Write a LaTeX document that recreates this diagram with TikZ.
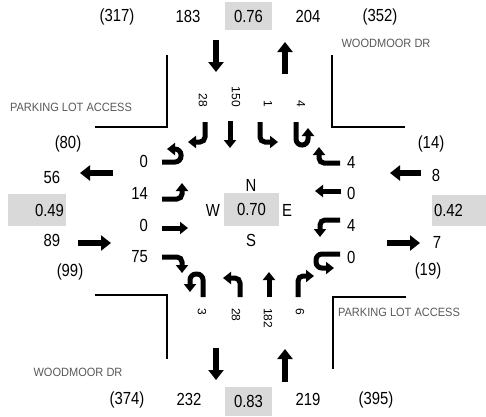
\documentclass[tikz,border=0pt]{standalone}
\usepackage{fontspec}
\setmainfont{Liberation Sans}[FakeStretch=0.85]
\newfontfamily\rotfont{Liberation Sans}
\newfontfamily\streetfont{Liberation Sans}[FakeStretch=0.92]
\usetikzlibrary{arrows.meta}
\definecolor{boxgray}{HTML}{D9D9D9}
\definecolor{streetgray}{HTML}{595959}
\begin{document}
\begin{tikzpicture}[x=1pt,y=-1pt,
  num/.style={inner sep=0pt, font=\fontsize{17.5}{20}\selectfont},
  valbox/.style={num, fill=boxgray, inner sep=2pt},
  rot/.style={inner sep=0pt, rotate=-90, font=\rotfont\fontsize{12}{14}\selectfont},
  street/.style={inner sep=0pt, text=streetgray, font=\streetfont\fontsize{12}{14}\selectfont},
  curb/.style={line width=1.3pt},
  mv/.style={line width=5pt, rounded corners=5pt, -{Triangle[length=8pt,width=12pt]}},
  bigarrow/.style={line width=6.5pt, -{Triangle[length=10pt,width=15pt]}},
]
\useasboundingbox (0,0) rectangle (486,416);

% curbs
\draw[curb] (95,127) -- (167,127) -- (167,55);
\draw[curb] (332,55) -- (332,127) -- (405,127);
\draw[curb] (95,295) -- (167,295) -- (167,359);
\draw[curb] (406,297) -- (333,297) -- (333,369);

% street names
\node[street] (plaTL) at (71,107) {PARKING LOT ACCESS};
\node[street] (wdTR) at (386,43) {WOODMOOR DR};
\node[street] (plaBR) at (399,312) {PARKING LOT ACCESS};
\node[street] (wdBL) at (78,372) {WOODMOOR DR};

% top row
\node[num] (tA) at (117,17) {(317)};
\node[num] (tB) at (188,16.5) {183};
\node[valbox, minimum width=47pt, minimum height=28pt] (tC) at (248.5,16) {0.76};
\node[num] (tD) at (308,16.5) {204};
\node[num] (tE) at (380,17) {(352)};

% bottom row
\node[num] (bA) at (127,400) {(374)};
\node[num] (bB) at (189,399) {232};
\node[valbox, minimum width=47pt, minimum height=29pt] (bC) at (248.5,401.5) {0.83};
\node[num] (bD) at (308,399) {219};
\node[num] (bE) at (376,400) {(395)};

% left column
\node[num] (lA) at (68,144) {(80)};
\node[num] (lB) at (52,177) {56};
\node[valbox, minimum height=32pt, text width=54pt, align=right] (lC) at (37,210) {0.49};
\node[num] (lD) at (52,240) {89};
\node[num] (lE) at (70,272) {(99)};

% right column
\node[num] (rA) at (431,144) {(14)};
\node[num] (rB) at (436,175) {8};
\node[valbox, minimum height=31pt, text width=50pt, align=left] (rC) at (459,210.5) {0.42};
\node[num] (rD) at (437,242) {7};
\node[num] (rE) at (428,271) {(19)};

% centre
\node[num] (cN) at (251,185) {N};
\node[num] (cW) at (213,210) {W};
\node[valbox, minimum width=55pt, minimum height=33pt] (cV) at (251.5,209.5) {0.70};
\node[num] (cE) at (287,210) {E};
\node[num] (cS) at (251,240) {S};

% approach arrows
\draw[bigarrow] (216,40) -- (216,72);
\draw[bigarrow] (285,74) -- (285,42);
\draw[bigarrow] (113,173) -- (80,173);
\draw[bigarrow] (78,243) -- (111,243);
\draw[bigarrow] (421,173) -- (390,173);
\draw[bigarrow] (387,243) -- (420,243);
\draw[bigarrow] (216,348) -- (216,380);
\draw[bigarrow] (285,382) -- (285,349);

% north approach labels
\node[rot, anchor=east] (n1) at (203,107) {28};
\node[rot, anchor=east] (n2) at (236,107) {150};
\node[rot, anchor=east] (n3) at (268,107) {1};
\node[rot, anchor=east] (n4) at (301,107) {4};
% south approach labels
\node[rot, anchor=west] (s1) at (202,308) {3};
\node[rot, anchor=west] (s2) at (236,308) {28};
\node[rot, anchor=west] (s3) at (268,308) {182};
\node[rot, anchor=west] (s4) at (300,308) {6};
% west approach labels
\node[num, anchor=east] (w1) at (148,161) {0};
\node[num, anchor=east] (w2) at (148,193) {14};
\node[num, anchor=east] (w3) at (148,225) {0};
\node[num, anchor=east] (w4) at (148,257) {75};
% east approach labels
\node[num, anchor=west] (e1) at (347,162) {4};
\node[num, anchor=west] (e2) at (347,193) {0};
\node[num, anchor=west] (e3) at (347,225) {4};
\node[num, anchor=west] (e4) at (347,257) {0};

% north approach movements (southbound)
\draw[mv] (205,122) -- (205,142) -- (188,142);
\draw[mv] (230,121) -- (230,148);
\draw[mv] (260,122) -- (260,142) -- (278,142);
\draw[mv, rounded corners=6pt] (296,122) -- (296,145) -- (308,145) -- (308,128);

% west approach movements (eastbound)
\draw[mv, rounded corners=6pt] (162,162) -- (181,162) -- (181,149) -- (167,149);
\draw[mv] (162,199) -- (182,199) -- (182,183);
\draw[mv] (162,228) -- (188,228);
\draw[mv] (162,257) -- (182,257) -- (182,273);

% east approach movements (westbound)
\draw[mv] (340,163) -- (319,163) -- (319,147);
\draw[mv] (341,191) -- (315,191);
\draw[mv] (340,220) -- (320,220) -- (320,237);
\draw[mv, rounded corners=6pt] (340,254) -- (316,254) -- (316,268) -- (334,268);

% south approach movements (northbound)
\draw[mv, rounded corners=6pt] (203,297) -- (203,274) -- (190,274) -- (190,292);
\draw[mv] (240,297) -- (240,278) -- (223,278);
\draw[mv] (269,297) -- (269,272);
\draw[mv] (298,297) -- (298,276) -- (314,276);
\end{tikzpicture}
\end{document}
